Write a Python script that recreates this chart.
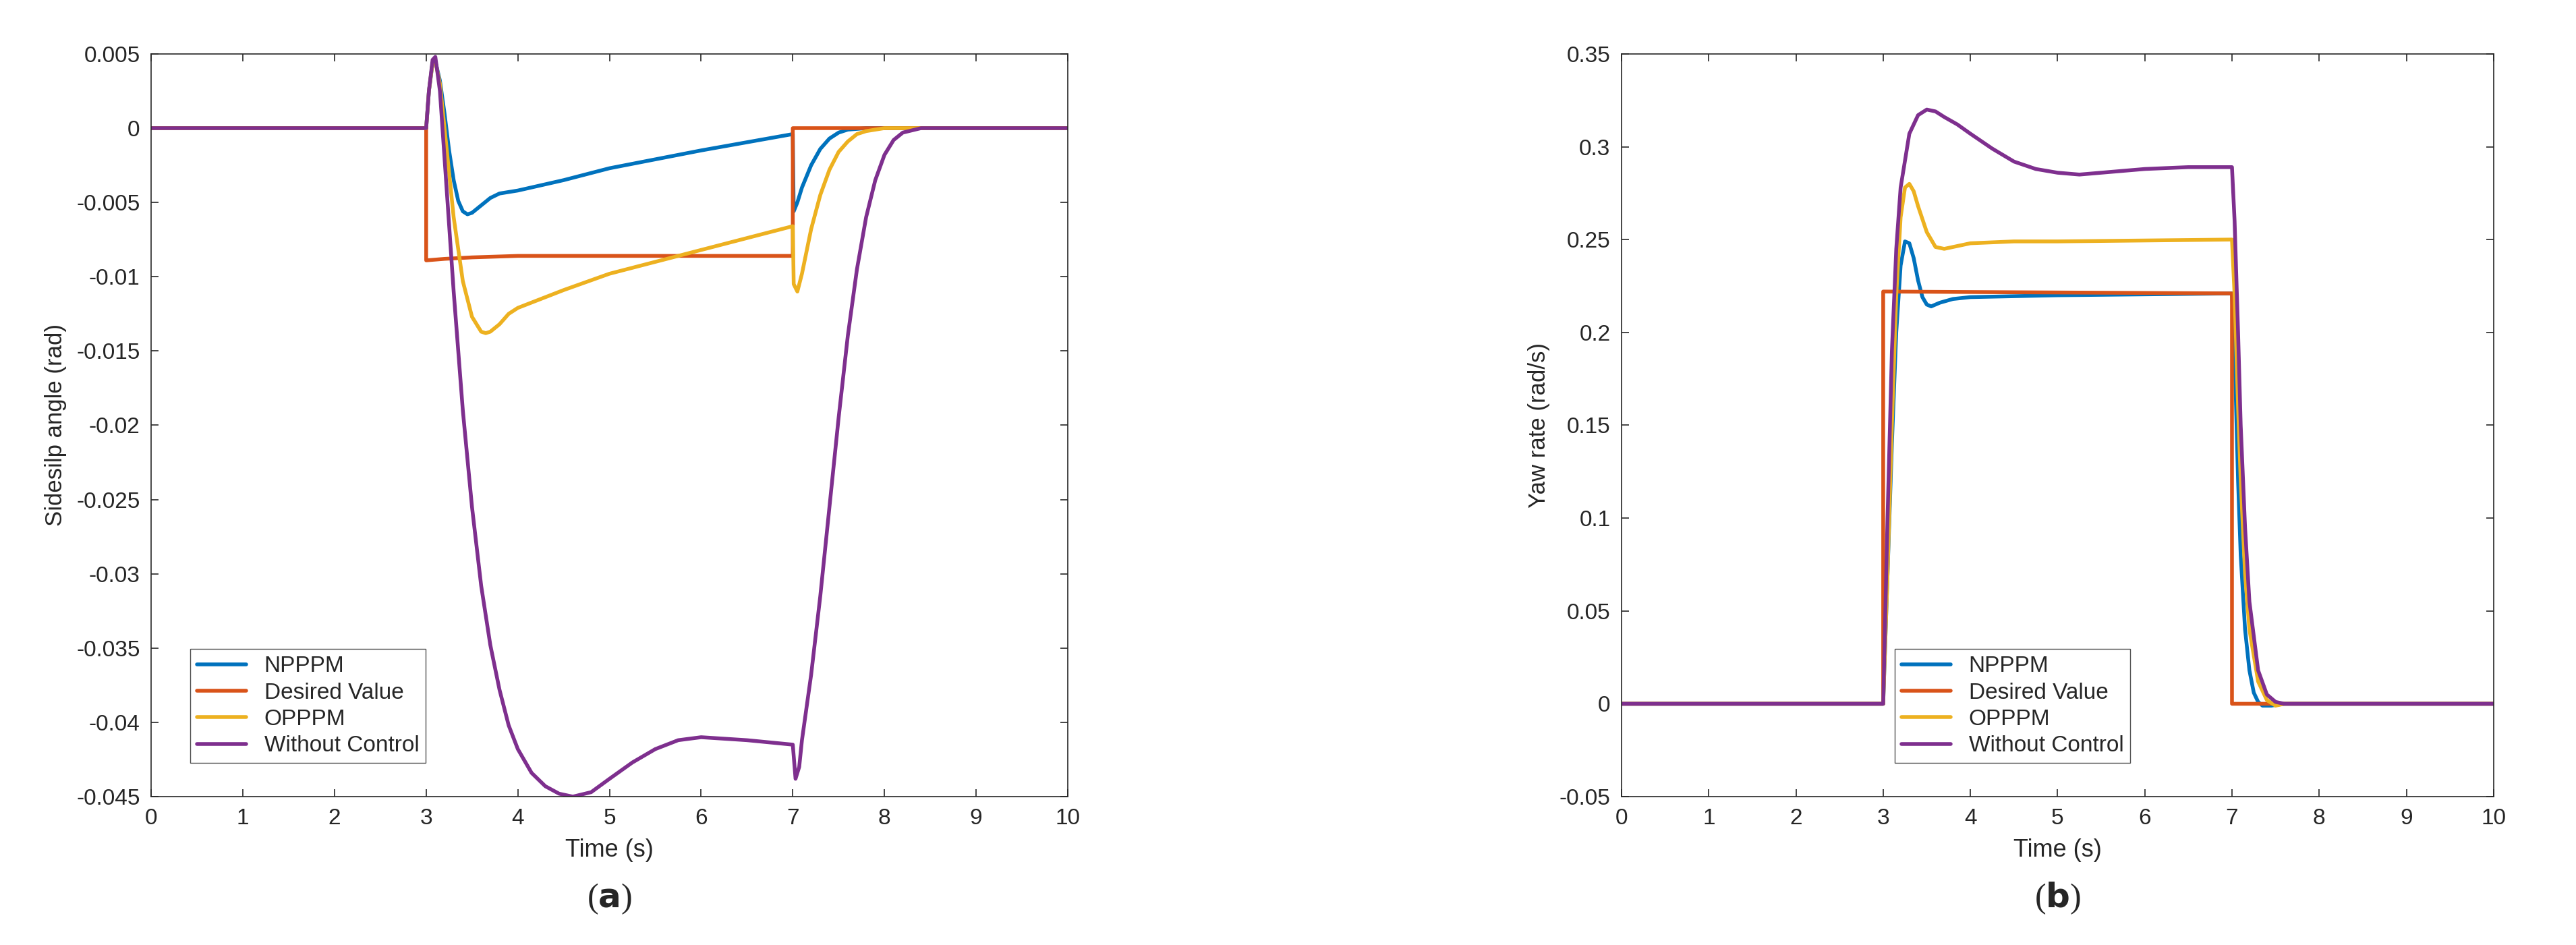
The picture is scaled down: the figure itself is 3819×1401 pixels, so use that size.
import numpy as np, pandas as pd, seaborn as sns, matplotlib
matplotlib.use("Agg")
import matplotlib.pyplot as plt

series_names = ["NPPPM", "Desired Value", "OPPPM", "Without Control"]
colors = ["#0072BD", "#D95319", "#EDB120", "#7E2F8E"]

# Sideslip angle (a)
a_np_t = [0, 3.0, 3.03, 3.07, 3.1, 3.15, 3.2, 3.25, 3.3, 3.35, 3.4, 3.45, 3.5, 3.6, 3.7, 3.8, 3.9, 4.0, 4.5, 5.0, 6.0, 7.0, 7.01, 7.05, 7.1, 7.2, 7.3, 7.4, 7.5, 7.6, 7.8, 10]
a_np_v = [0, 0, 0.0025, 0.0044, 0.0045, 0.0032, 0.001, -0.0015, -0.0035, -0.0049, -0.0056, -0.0058, -0.0057, -0.0052, -0.0047, -0.0044, -0.0043, -0.0042, -0.0035, -0.0027, -0.0015, -0.0004, -0.0056, -0.005, -0.004, -0.0025, -0.0014, -0.0007, -0.0003, -0.0001, 0, 0]
a_de_t = [0, 3.0, 3.0001, 3.2, 3.5, 4.0, 7.0, 7.0001, 10]
a_de_v = [0, 0, -0.0089, -0.0088, -0.0087, -0.0086, -0.0086, 0, 0]
a_op_t = [0, 3.0, 3.03, 3.07, 3.1, 3.15, 3.2, 3.3, 3.4, 3.5, 3.6, 3.65, 3.7, 3.8, 3.9, 4.0, 4.5, 5.0, 6.0, 7.0, 7.01, 7.05, 7.1, 7.15, 7.2, 7.3, 7.4, 7.5, 7.6, 7.7, 7.8, 8.0, 10]
a_op_v = [0, 0, 0.0025, 0.0044, 0.0045, 0.003, 0.0, -0.006, -0.0103, -0.0127, -0.0137, -0.0138, -0.0137, -0.0132, -0.0125, -0.0121, -0.0109, -0.0098, -0.0082, -0.0066, -0.0105, -0.011, -0.0098, -0.0083, -0.0068, -0.0045, -0.0028, -0.0016, -0.0009, -0.0004, -0.0002, 0, 0]
a_wc_t = [0, 3.0, 3.03, 3.07, 3.1, 3.15, 3.2, 3.3, 3.4, 3.5, 3.6, 3.7, 3.8, 3.9, 4.0, 4.15, 4.3, 4.45, 4.6, 4.8, 5.0, 5.25, 5.5, 5.75, 6.0, 6.5, 7.0, 7.03, 7.07, 7.1, 7.2, 7.3, 7.4, 7.5, 7.6, 7.7, 7.8, 7.9, 8.0, 8.1, 8.2, 8.4, 10]
a_wc_v = [0, 0, 0.0025, 0.0046, 0.0048, 0.0025, -0.002, -0.011, -0.019, -0.0255, -0.0308, -0.0348, -0.0378, -0.0402, -0.0418, -0.0434, -0.0443, -0.0448, -0.045, -0.0447, -0.0438, -0.0427, -0.0418, -0.0412, -0.041, -0.0412, -0.0415, -0.0438, -0.043, -0.0412, -0.0368, -0.0315, -0.0255, -0.0195, -0.014, -0.0095, -0.006, -0.0035, -0.0018, -0.0008, -0.0003, 0, 0]

# Yaw rate (b)
b_np_t = [0, 3.0, 3.05, 3.1, 3.15, 3.2, 3.25, 3.3, 3.35, 3.4, 3.45, 3.5, 3.55, 3.65, 3.8, 4.0, 5.0, 7.0, 7.03, 7.07, 7.1, 7.15, 7.2, 7.25, 7.3, 7.35, 7.45, 7.6, 10]
b_np_v = [0, 0, 0.07, 0.14, 0.2, 0.236, 0.249, 0.248, 0.24, 0.228, 0.219, 0.215, 0.214, 0.216, 0.218, 0.219, 0.22, 0.221, 0.19, 0.12, 0.08, 0.04, 0.018, 0.006, 0.001, -0.001, -0.001, 0, 0]
b_de_t = [0, 3.0, 3.0001, 7.0, 7.0001, 10]
b_de_v = [0, 0, 0.222, 0.221, 0, 0]
b_op_t = [0, 3.0, 3.05, 3.1, 3.15, 3.2, 3.25, 3.3, 3.35, 3.4, 3.5, 3.6, 3.7, 3.8, 4.0, 4.5, 5.0, 7.0, 7.03, 7.07, 7.1, 7.15, 7.2, 7.3, 7.4, 7.5, 7.6, 10]
b_op_v = [0, 0, 0.07, 0.15, 0.22, 0.262, 0.278, 0.28, 0.276, 0.268, 0.254, 0.246, 0.245, 0.246, 0.248, 0.249, 0.249, 0.25, 0.22, 0.16, 0.12, 0.07, 0.04, 0.012, 0.002, -0.001, 0, 0]
b_wc_t = [0, 3.0, 3.05, 3.1, 3.15, 3.2, 3.3, 3.4, 3.5, 3.6, 3.7, 3.85, 4.0, 4.25, 4.5, 4.75, 5.0, 5.25, 5.5, 5.75, 6.0, 6.5, 7.0, 7.03, 7.07, 7.1, 7.15, 7.2, 7.3, 7.4, 7.5, 7.6, 10]
b_wc_v = [0, 0, 0.1, 0.19, 0.245, 0.278, 0.307, 0.317, 0.32, 0.319, 0.316, 0.312, 0.307, 0.299, 0.292, 0.288, 0.286, 0.285, 0.286, 0.287, 0.288, 0.289, 0.289, 0.26, 0.2, 0.15, 0.095, 0.055, 0.018, 0.005, 0.001, 0, 0]

def frame(groups):
    rows = []
    for name, (t, v) in zip(series_names, groups):
        for x, y in zip(t, v):
            rows.append((name, x, y))
    return pd.DataFrame(rows, columns=["series", "t", "v"])

df_a = frame([(a_np_t, a_np_v), (a_de_t, a_de_v), (a_op_t, a_op_v), (a_wc_t, a_wc_v)])
df_b = frame([(b_np_t, b_np_v), (b_de_t, b_de_v), (b_op_t, b_op_v), (b_wc_t, b_wc_v)])

sns.set_style("ticks")
plt.rcParams["font.family"] = ["Liberation Sans", "DejaVu Sans"]
plt.rcParams["xtick.direction"] = "in"
plt.rcParams["ytick.direction"] = "in"
fig = plt.figure(figsize=(38.19, 14.01), dpi=100)
ax1 = fig.add_axes([0.0587, 0.157, 0.3558, 0.786])
ax2 = fig.add_axes([0.6295, 0.157, 0.3385, 0.786])
pal = dict(zip(series_names, colors))

for ax, df, ylab, yl, yt, anchor in [
    (ax1, df_a, "Sidesilp angle (rad)", (-0.045, 0.005), np.arange(-0.045, 0.0051, 0.005), (0.03, 0.03)),
    (ax2, df_b, "Yaw rate (rad/s)", (-0.05, 0.35), np.arange(-0.05, 0.351, 0.05), (0.3, 0.03)),
]:
    sns.lineplot(data=df, x="t", y="v", hue="series", palette=pal, estimator=None,
                 sort=False, units="series", lw=4, ax=ax, legend=True)
    ax.set_xlim(0, 10); ax.set_ylim(*yl)
    ax.set_xticks(range(11)); ax.set_yticks(yt)
    ax.set_yticklabels([("0" if abs(y) < 1e-9 else f"{y:g}") for y in yt])
    ax.set_xlabel("Time (s)", fontsize=26, labelpad=10)
    ax.set_ylabel(ylab, fontsize=25, labelpad=10)
    ax.tick_params(labelsize=24, top=True, right=True, length=8, width=1.2, colors="#262626", pad=12)
    for s in ax.spines.values():
        s.set_color("#262626"); s.set_linewidth(1.2)
    h, l = ax.get_legend_handles_labels()
    ax.legend(h, l, loc="lower left", bbox_to_anchor=anchor, fontsize=24, frameon=True,
              fancybox=False, edgecolor="#262626", handlelength=2.2, borderpad=0.3, labelspacing=0.25)

fig.text(0.2366, 0.04, r"($\mathbf{a}$)", fontsize=36, ha="center", family="Liberation Serif")
fig.text(0.7988, 0.04, r"($\mathbf{b}$)", fontsize=36, ha="center", family="Liberation Serif")
fig.savefig("out.png", dpi=100, facecolor="white")
